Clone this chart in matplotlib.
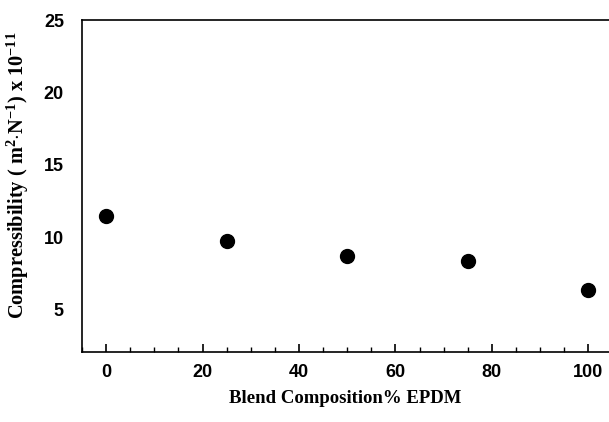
import matplotlib.pyplot as plt
from matplotlib.ticker import MultipleLocator

plt.rcParams['mathtext.fontset'] = 'custom'
plt.rcParams['mathtext.rm'] = 'Liberation Serif:bold'
plt.rcParams['mathtext.it'] = 'Liberation Serif:bold'
plt.rcParams['mathtext.bf'] = 'Liberation Serif:bold'

# data
epdm = [0, 25, 50, 75, 100]
compressibility = [11.45, 9.75, 8.75, 8.35, 6.35]

y_ticks = [5, 10, 15, 20, 25]
x_ticks = [0, 20, 40, 60, 80, 100]

fig = plt.figure(figsize=(6.09, 4.22), dpi=100)
ax = fig.add_axes([0.1346, 0.1659, 0.8654, 0.7867])

ax.plot(epdm, compressibility, 'o', color='black', markersize=10)

ax.set_xlim(-5, 104.3)
ax.set_ylim(2.1, 25)
ax.set_xticks(x_ticks)
ax.xaxis.set_minor_locator(MultipleLocator(5))
ax.set_yticks(y_ticks)

ax.spines['right'].set_visible(False)
for s in ['left', 'bottom', 'top']:
    ax.spines[s].set_linewidth(1.2)

ax.tick_params(axis='x', which='major', direction='in', length=6, width=1.2, pad=9)
ax.tick_params(axis='x', which='minor', direction='in', length=3.5, width=1)
ax.tick_params(axis='y', length=0, pad=13)
for lab in ax.get_xticklabels() + ax.get_yticklabels():
    lab.set_fontfamily('Liberation Sans')
    lab.set_fontweight('bold')
    lab.set_fontsize(13)

ax.set_xlabel('Blend Composition% EPDM', labelpad=6,
              family='Liberation Serif', weight='bold', size=13.5)
ax.set_ylabel(r'Compressibility ( m$^{2}$$\cdot$N$^{-1}$) x 10$^{-11}$',
              family='Liberation Serif', weight='bold', size=14.7)
ax.yaxis.set_label_coords(-0.097, 0.533)

fig.savefig('out.png', dpi=100)
